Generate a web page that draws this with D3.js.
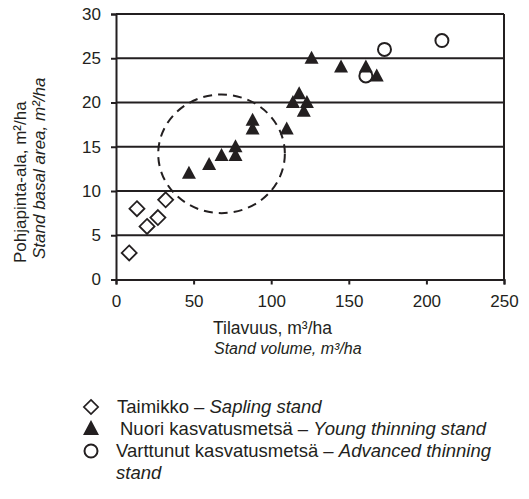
<!DOCTYPE html>
<html>
<head>
<meta charset="utf-8">
<script src="https://cdn.jsdelivr.net/npm/d3@7"></script>
<style>
  body { margin: 0; background: #fff; }
  svg { display: block; font-family: "Liberation Sans", Arial, sans-serif; }
</style>
</head>
<body>
<svg id="chart"></svg>
<script>
// data
var saplingX = [8.5, 13.5, 20, 27, 32];
var saplingY = [3, 8, 6, 7, 9];
var youngX = [47, 60, 68, 77, 77, 88, 88, 110, 114, 118, 121, 123, 126, 145, 161, 168];
var youngY = [12, 13, 14, 14, 15, 17, 18, 17, 20, 21, 19, 20, 25, 24, 24, 23];
var advancedX = [161, 173, 210];
var advancedY = [23, 26, 27];
var xTicks = [0, 50, 100, 150, 200, 250];
var yTicks = [0, 5, 10, 15, 20, 25, 30];
// dashed circle: centre and radii in data units
var ringCentre = [68, 14.2];
var ringRadius = [40.8, 6.7];
var legendLabels = [
  ['Taimikko', 'Sapling stand'],
  ['Nuori kasvatusmetsä', 'Young thinning stand'],
  ['Varttunut kasvatusmetsä', 'Advanced thinning', 'stand']
];

var ink = '#231f20';
var W = 529, H = 499;
var svg = d3.select('#chart').attr('width', W).attr('height', H);

var x = d3.scaleLinear().domain([0, 250]).range([116, 504]);
var y = d3.scaleLinear().domain([0, 30]).range([279.5, 14]);

function zip(a, b) { return a.map(function(v, i) { return [v, b[i]]; }); }

// gridlines
svg.append('g').selectAll('line')
  .data(yTicks.filter(function(d) { return d > 0; }))
  .enter().append('line')
  .attr('x1', x(0)).attr('x2', x(250))
  .attr('y1', function(d) { return y(d); })
  .attr('y2', function(d) { return y(d); })
  .attr('stroke', ink).attr('stroke-width', 2);

// right border
svg.append('line')
  .attr('x1', x(250)).attr('x2', x(250))
  .attr('y1', y(0)).attr('y2', y(30))
  .attr('stroke', ink).attr('stroke-width', 2);

// axes
var yAxis = svg.append('g')
  .attr('transform', 'translate(' + x(0) + ',0)')
  .call(d3.axisLeft(y).tickValues(yTicks).tickSize(5).tickPadding(10));
var xAxis = svg.append('g')
  .attr('transform', 'translate(0,' + y(0) + ')')
  .call(d3.axisBottom(x).tickValues(xTicks).tickSize(5).tickPadding(10));

[xAxis, yAxis].forEach(function(a) {
  a.select('.domain').attr('stroke', ink).attr('stroke-width', 2);
  a.selectAll('.tick line').attr('stroke', ink).attr('stroke-width', 2);
  a.selectAll('.tick text')
    .attr('fill', ink)
    .style('font-size', '17px')
    .style('font-family', '"Liberation Sans", Arial, sans-serif');
});

// dashed ring
svg.append('ellipse')
  .attr('cx', x(ringCentre[0]))
  .attr('cy', y(ringCentre[1]))
  .attr('rx', x(ringCentre[0] + ringRadius[0]) - x(ringCentre[0]))
  .attr('ry', y(ringCentre[1]) - y(ringCentre[1] + ringRadius[1]))
  .attr('fill', 'none')
  .attr('stroke', ink)
  .attr('stroke-width', 2)
  .attr('stroke-dasharray', '9,6');

// marker shapes
var diamond = 'M0,-7.5L7.5,0L0,7.5L-7.5,0Z';
var triangle = 'M0,-7.5L7,5.5L-7,5.5Z';

svg.append('g').selectAll('path')
  .data(zip(saplingX, saplingY))
  .enter().append('path')
  .attr('d', diamond)
  .attr('transform', function(d) { return 'translate(' + x(d[0]) + ',' + y(d[1]) + ')'; })
  .attr('fill', '#fff').attr('stroke', ink).attr('stroke-width', 1.8);

svg.append('g').selectAll('circle')
  .data(zip(advancedX, advancedY))
  .enter().append('circle')
  .attr('cx', function(d) { return x(d[0]); })
  .attr('cy', function(d) { return y(d[1]); })
  .attr('r', 6.5)
  .attr('fill', '#fff').attr('stroke', ink).attr('stroke-width', 2);

svg.append('g').selectAll('path')
  .data(zip(youngX, youngY))
  .enter().append('path')
  .attr('d', triangle)
  .attr('transform', function(d) { return 'translate(' + x(d[0]) + ',' + y(d[1]) + ')'; })
  .attr('fill', ink);

// axis titles
svg.append('text')
  .attr('transform', 'translate(26,263) rotate(-90)')
  .style('font-size', '17px').attr('fill', ink)
  .text('Pohjapinta-ala, m²/ha');
svg.append('text')
  .attr('transform', 'translate(45,259) rotate(-90)')
  .style('font-size', '17px').style('font-style', 'italic').attr('fill', ink)
  .text('Stand basal area, m²/ha');

svg.append('text')
  .attr('x', 213).attr('y', 334)
  .style('font-size', '17.5px').attr('fill', ink)
  .text('Tilavuus, m³/ha');
svg.append('text')
  .attr('x', 214).attr('y', 354)
  .style('font-size', '16px').style('font-style', 'italic').attr('fill', ink)
  .text('Stand volume, m³/ha');

// legend
var legendY = [407, 429, 451];
var lg = svg.append('g');
lg.append('path').attr('d', diamond)
  .attr('transform', 'translate(91,' + legendY[0] + ') scale(0.95)')
  .attr('fill', '#fff').attr('stroke', ink).attr('stroke-width', 1.8);
lg.append('path').attr('d', 'M0,-8L8,7L-8,7Z')
  .attr('transform', 'translate(91,' + (legendY[1] - 1) + ')')
  .attr('fill', ink);
lg.append('circle').attr('cx', 91).attr('cy', legendY[2]).attr('r', 6.5)
  .attr('fill', '#fff').attr('stroke', ink).attr('stroke-width', 2);

var textX = [117, 120, 116];
legendLabels.forEach(function(l, i) {
  var t = lg.append('text')
    .attr('x', textX[i]).attr('y', legendY[i] + 6)
    .style('font-size', '18.5px').attr('fill', ink);
  t.append('tspan').text(l[0] + ' – ');
  t.append('tspan').style('font-style', 'italic').text(l[1]);
  if (l[2]) {
    lg.append('text')
      .attr('x', textX[i]).attr('y', legendY[i] + 28)
      .style('font-size', '18.5px').style('font-style', 'italic').attr('fill', ink)
      .text(l[2]);
  }
});
</script>
</body>
</html>
